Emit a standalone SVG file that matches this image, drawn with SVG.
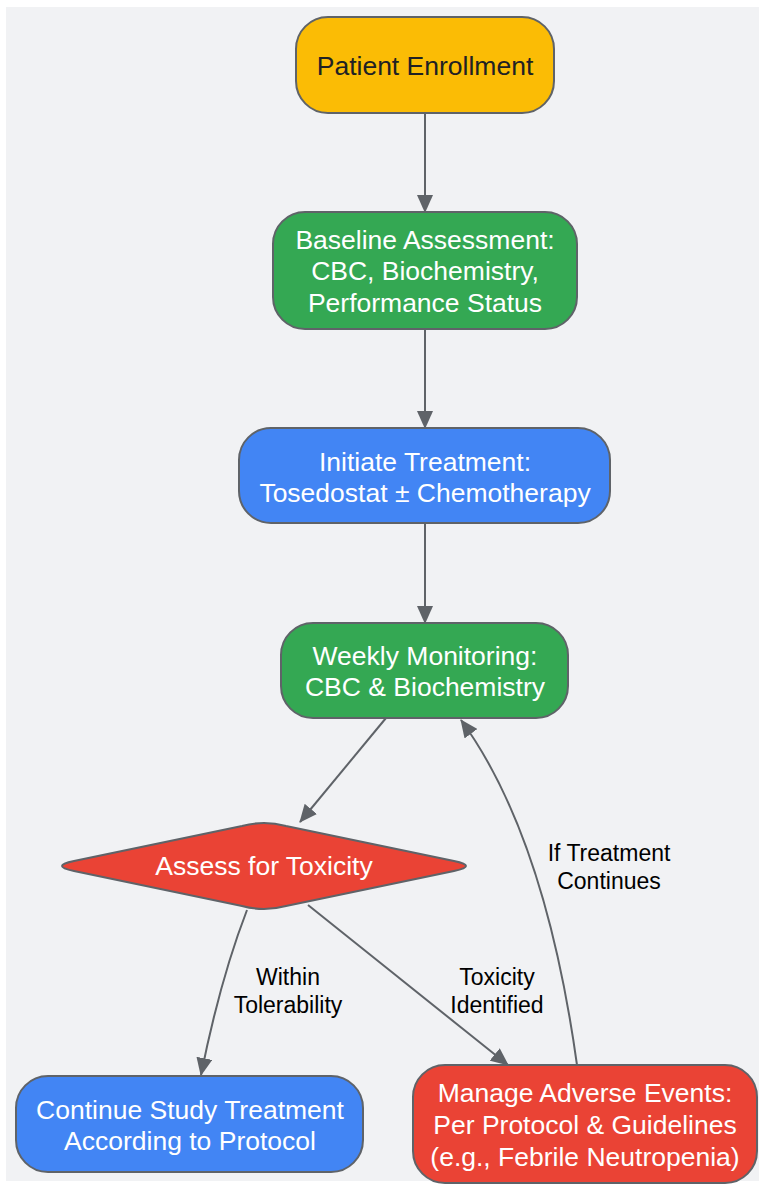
<svg xmlns="http://www.w3.org/2000/svg" width="759" height="1186" viewBox="0 0 759 1186">
<style>
.node{stroke:#5f6368;stroke-width:2}
.t{font-family:"Liberation Sans",Arial,sans-serif;font-size:26.5px;text-anchor:middle;fill:#ffffff}
.dark{fill:#202124}
.lbl{font-family:"Liberation Sans",Arial,sans-serif;font-size:23px;text-anchor:middle;fill:#000000}
.edge{fill:none;stroke:#5f6368;stroke-width:2}
</style>
<defs>
<marker id="arr" markerUnits="userSpaceOnUse" markerWidth="18" markerHeight="16" refX="17" refY="8" orient="auto">
<path d="M0,0 L18,8 L0,16 Z" fill="#5f6368"/>
</marker>
</defs>
<rect x="6" y="7" width="753" height="1174" fill="#f1f2f4"/>
<g id="connectors">
<path class="edge" d="M425,113 L425,212" marker-end="url(#arr)"/>
<path class="edge" d="M425,329 L425,428" marker-end="url(#arr)"/>
<path class="edge" d="M425,523 L425,623" marker-end="url(#arr)"/>
<path class="edge" d="M386,718 L300,822" marker-end="url(#arr)"/>
<path class="edge" d="M247,910 Q220,980 201,1075" marker-end="url(#arr)"/>
<path class="edge" d="M308,905 L508,1065" marker-end="url(#arr)"/>
<path class="edge" d="M577,1065 Q545,835 461,720" marker-end="url(#arr)"/>
</g>
<g id="labels">
<text class="lbl" x="288" y="985">Within</text>
<text class="lbl" x="288" y="1013">Tolerability</text>
<text class="lbl" x="497" y="985">Toxicity</text>
<text class="lbl" x="497" y="1013">Identified</text>
<text class="lbl" x="609" y="861">If Treatment</text>
<text class="lbl" x="609" y="889">Continues</text>
</g>
<g id="enroll">
<rect class="node" x="296" y="17" width="258" height="96" rx="32" fill="#fbbc05"/>
<text class="t dark" x="425" y="75">Patient Enrollment</text>
</g>
<g id="baseline">
<rect class="node" x="273" y="212" width="304" height="117" rx="32" fill="#34a853"/>
<text class="t" x="425" y="249">Baseline Assessment:</text>
<text class="t" x="425" y="280">CBC, Biochemistry,</text>
<text class="t" x="425" y="312">Performance Status</text>
</g>
<g id="initiate">
<rect class="node" x="239" y="428" width="371" height="95" rx="32" fill="#4285f4"/>
<text class="t" x="425" y="471">Initiate Treatment:</text>
<text class="t" x="425" y="502">Tosedostat ± Chemotherapy</text>
</g>
<g id="weekly">
<rect class="node" x="281" y="623" width="287" height="95" rx="32" fill="#34a853"/>
<text class="t" x="425" y="665">Weekly Monitoring:</text>
<text class="t" x="425" y="696">CBC &amp; Biochemistry</text>
</g>
<g id="assess">
<path class="node" fill="#ea4335" d="M74,861 L242,826 Q264,820 286,826 L454,861 Q478,866 454,871 L286,906 Q264,912 242,906 L74,871 Q50,866 74,861 Z"/>
<text class="t" x="264" y="875">Assess for Toxicity</text>
</g>
<g id="continue">
<rect class="node" x="16" y="1076" width="347" height="96" rx="32" fill="#4285f4"/>
<text class="t" x="190" y="1119">Continue Study Treatment</text>
<text class="t" x="190" y="1150">According to Protocol</text>
</g>
<g id="manage">
<rect class="node" x="413" y="1065" width="344" height="118" rx="32" fill="#ea4335"/>
<text class="t" x="585" y="1102">Manage Adverse Events:</text>
<text class="t" x="585" y="1134">Per Protocol &amp; Guidelines</text>
<text class="t" x="585" y="1166">(e.g., Febrile Neutropenia)</text>
</g>
</svg>
